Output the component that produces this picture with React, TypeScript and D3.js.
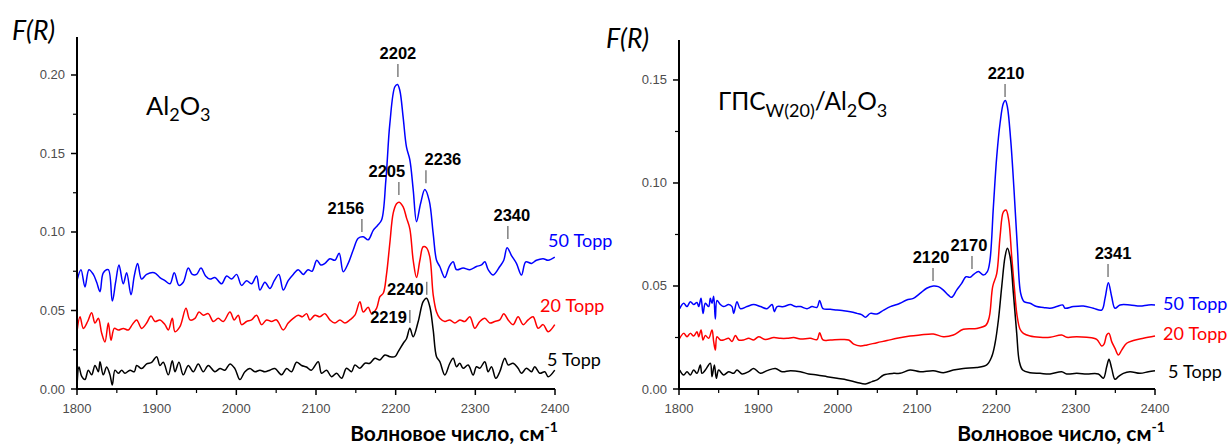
import React from "react";
import * as d3 from "d3";

type Pt = [number, number];

// ---------- data (wavenumber, F(R)) ----------
const xTicks = [1800, 1900, 2000, 2100, 2200, 2300, 2400];
const xMinorTicks = [1850, 1950, 2050, 2150, 2250, 2350];
const leftYTicks = [0, 0.05, 0.1, 0.15, 0.2];
const leftYMinor = [0.025, 0.075, 0.125, 0.175];
const rightYTicks = [0, 0.05, 0.1, 0.15];
const rightYMinor = [0.025, 0.075, 0.125];
const pressureLabels = ["50 Торр", "20 Торр", "5 Торр"];

const leftBlue: Pt[] = [
  [1800, 0.069], [1805, 0.076], [1810, 0.065], [1815, 0.076], [1820.5, 0.073], [1824.7, 0.068],
  [1828.9, 0.062], [1833, 0.074], [1839.3, 0.076], [1844.3, 0.056], [1848.5, 0.068], [1852.7, 0.079],
  [1858.1, 0.067], [1862.3, 0.074], [1867.8, 0.06], [1871.9, 0.072], [1876.1, 0.08], [1881.1, 0.07],
  [1887.4, 0.073], [1897, 0.074], [1904.1, 0.071], [1910.4, 0.069], [1916.7, 0.067], [1922.1, 0.074],
  [1928, 0.066], [1933.4, 0.068], [1939.7, 0.077], [1944.7, 0.073], [1950.1, 0.073], [1955.6, 0.077],
  [1961.4, 0.072], [1966.9, 0.07], [1973.1, 0.071], [1981.5, 0.067], [1987.8, 0.072], [1994.1, 0.07],
  [2000.3, 0.073], [2006.6, 0.066], [2012.9, 0.069], [2019.1, 0.067], [2025.4, 0.072], [2029.6, 0.063],
  [2035.9, 0.068], [2042.1, 0.064], [2047.6, 0.069], [2053.4, 0.073], [2058.9, 0.063], [2065.1, 0.069],
  [2071.4, 0.073], [2077.7, 0.076], [2084, 0.073], [2090, 0.076], [2095, 0.075], [2101, 0.082],
  [2106, 0.079], [2111.2, 0.08], [2117.4, 0.083], [2123.7, 0.082], [2129.1, 0.0865], [2134.2, 0.0747],
  [2140.4, 0.08], [2146.7, 0.0885], [2153, 0.096], [2159.3, 0.097], [2165.5, 0.095], [2171.8, 0.101],
  [2177, 0.104], [2182.3, 0.1076], [2187.7, 0.133], [2192.7, 0.169], [2199, 0.1925], [2202.3, 0.194],
  [2205.3, 0.19], [2209.4, 0.173], [2213.6, 0.154], [2217.8, 0.146], [2222, 0.127], [2226.2, 0.1066],
  [2231.2, 0.118], [2236.6, 0.127], [2242.1, 0.12], [2247.1, 0.099], [2251.3, 0.082], [2255.4, 0.078],
  [2261.7, 0.071], [2267.2, 0.078], [2272.2, 0.081], [2276.4, 0.076], [2284.7, 0.077], [2293.1, 0.076],
  [2301.4, 0.078], [2307.7, 0.079], [2311.9, 0.081], [2316.1, 0.076], [2322.4, 0.0726], [2330.7, 0.078],
  [2335.7, 0.082], [2339.9, 0.09], [2345.4, 0.085], [2351.6, 0.08], [2357.9, 0.0726], [2363.3, 0.081],
  [2370.5, 0.08], [2376.7, 0.082], [2385.1, 0.083], [2391.4, 0.082], [2399.7, 0.084],
];

const leftRed: Pt[] = [
  [1800, 0.0365], [1803.8, 0.046], [1808, 0.0386], [1813.4, 0.043], [1818.4, 0.0486], [1822.6, 0.042],
  [1826.8, 0.045], [1831, 0.0355], [1835.1, 0.03], [1839.3, 0.042], [1842.7, 0.031], [1846.8, 0.0386],
  [1851.9, 0.0376], [1858.1, 0.0386], [1864.4, 0.0376], [1869.4, 0.041], [1874.9, 0.044], [1881.1, 0.0386],
  [1887.4, 0.042], [1892.9, 0.0465], [1897.9, 0.043], [1904.1, 0.044], [1910.4, 0.041], [1914.6, 0.0376],
  [1919.6, 0.045], [1923, 0.0365], [1929.2, 0.0397], [1936.8, 0.0514], [1941.8, 0.044], [1948.1, 0.045],
  [1953.1, 0.049], [1958.5, 0.047], [1964.8, 0.048], [1971, 0.043], [1977.3, 0.045], [1983.6, 0.043],
  [1992, 0.049], [1997.4, 0.044], [2002.4, 0.047], [2006.6, 0.041], [2012.9, 0.043], [2019.1, 0.044],
  [2025.4, 0.047], [2031.7, 0.041], [2038, 0.044], [2044.2, 0.043], [2050.5, 0.044], [2058.9, 0.0376],
  [2065.1, 0.042], [2071.4, 0.045], [2077.7, 0.047], [2083, 0.046], [2088.2, 0.048], [2092.3, 0.044],
  [2098.6, 0.047], [2104.9, 0.046], [2111.2, 0.048], [2117.4, 0.044], [2123.7, 0.042], [2130, 0.044],
  [2136.3, 0.042], [2142.5, 0.044], [2148.8, 0.047], [2155.1, 0.0556], [2159.3, 0.049], [2165.5, 0.052],
  [2169.7, 0.048], [2176, 0.0514], [2180.2, 0.0588], [2184.4, 0.061], [2188.5, 0.073], [2192.7, 0.093],
  [2196.9, 0.112], [2201.1, 0.118], [2204.4, 0.119], [2209.4, 0.116], [2213.6, 0.109], [2217.8, 0.102],
  [2222, 0.082], [2226.2, 0.071], [2230.4, 0.082], [2234.5, 0.0906], [2238.7, 0.09], [2242.9, 0.084],
  [2247.1, 0.06], [2251.3, 0.049], [2255.4, 0.045], [2261.7, 0.043], [2268, 0.044], [2274.3, 0.042],
  [2280.5, 0.044], [2286.8, 0.043], [2293.1, 0.046], [2299.4, 0.0387], [2305.6, 0.043], [2311.9, 0.045],
  [2318.2, 0.042], [2324.4, 0.043], [2330.7, 0.044], [2335.7, 0.048], [2341.2, 0.044], [2347.4, 0.041],
  [2353.7, 0.046], [2360, 0.041], [2366.3, 0.044], [2372.5, 0.046], [2378.8, 0.0387], [2385.1, 0.041],
  [2391.4, 0.0365], [2399.7, 0.041],
];

const leftBlack: Pt[] = [
  [1800, 0.0015], [1802.5, 0.014], [1805.9, 0.008], [1810, 0.006], [1814.2, 0.012], [1818.4, 0.009],
  [1822.6, 0.015], [1826.8, 0.011], [1828.9, 0.0174], [1833, 0.009], [1837.2, 0.014], [1841.4, 0.009],
  [1844.3, 0.0025], [1847.7, 0.012], [1851.9, 0.01], [1856.1, 0.012], [1860.2, 0.01], [1866.5, 0.012],
  [1871.9, 0.011], [1874.9, 0.015], [1881.1, 0.013], [1887.4, 0.016], [1893.7, 0.017], [1900, 0.0206],
  [1904.1, 0.015], [1908.3, 0.017], [1914.6, 0.009], [1919.6, 0.018], [1923, 0.011], [1928, 0.017],
  [1933.4, 0.009], [1939.7, 0.015], [1946, 0.011], [1952.2, 0.016], [1958.5, 0.011], [1964.8, 0.015],
  [1973.1, 0.011], [1979.4, 0.013], [1985.7, 0.012], [1992, 0.016], [1998.2, 0.013], [2004.5, 0.006],
  [2010.8, 0.011], [2017, 0.013], [2023.3, 0.011], [2029.6, 0.012], [2035.9, 0.011], [2042.1, 0.012],
  [2048.4, 0.013], [2056.8, 0.009], [2063.1, 0.013], [2069.3, 0.011], [2075.6, 0.017], [2081.9, 0.015],
  [2088, 0.014], [2094, 0.012], [2102.8, 0.0174], [2107, 0.01], [2113.3, 0.012], [2119.5, 0.0078],
  [2125.8, 0.01], [2132.1, 0.0068], [2138.3, 0.0132], [2144.6, 0.011], [2148.8, 0.0153], [2155.1, 0.0132],
  [2161.4, 0.0164], [2167.6, 0.0164], [2173.9, 0.0196], [2180.2, 0.0185], [2186.4, 0.0217], [2192.7, 0.0206],
  [2199, 0.0206], [2203.2, 0.0238], [2209.4, 0.029], [2213.6, 0.032], [2217.8, 0.0387], [2222, 0.0333],
  [2228.3, 0.043], [2234.5, 0.0556], [2238.7, 0.0578], [2242.9, 0.0524], [2247.1, 0.0376], [2251.3, 0.0206],
  [2255.4, 0.0174], [2261.7, 0.0089], [2268, 0.0164], [2272.2, 0.0196], [2276.4, 0.0142], [2280.5, 0.0164],
  [2284.7, 0.0132], [2291, 0.0153], [2297.3, 0.0089], [2301.4, 0.0142], [2305.6, 0.0132], [2311.9, 0.0174],
  [2316.1, 0.011], [2320.3, 0.0142], [2325.7, 0.0068], [2330.7, 0.011], [2337, 0.0196], [2341.2, 0.0153],
  [2347.4, 0.0164], [2353.7, 0.0132], [2357.9, 0.01], [2364.2, 0.0132], [2370.5, 0.011], [2374.6, 0.0142],
  [2380.9, 0.01], [2387.2, 0.011], [2391.4, 0.0078], [2399.7, 0.012],
];

const rightBlue: Pt[] = [
  [1800.9, 0.039], [1805.9, 0.0416], [1810.1, 0.04], [1814.3, 0.0424], [1818.5, 0.041], [1822.7, 0.042],
  [1824.8, 0.04], [1827.8, 0.044], [1830.3, 0.0367], [1833.2, 0.0416], [1837.4, 0.04], [1839.5, 0.044],
  [1841.6, 0.0416], [1843.7, 0.045], [1845.8, 0.034], [1847.9, 0.043], [1852.1, 0.041], [1856.3, 0.04],
  [1862.6, 0.041], [1866.8, 0.04], [1868.9, 0.0367], [1873.1, 0.0424], [1877.3, 0.039], [1885.7, 0.04],
  [1894.1, 0.041], [1902.6, 0.04], [1911, 0.039], [1917.3, 0.041], [1920.2, 0.0375], [1923.6, 0.04],
  [1932, 0.04], [1940.4, 0.041], [1946.7, 0.04], [1953, 0.04], [1961.4, 0.039], [1967.7, 0.04],
  [1974, 0.0396], [1977.3, 0.043], [1981.5, 0.039], [1990.8, 0.0387], [1999.2, 0.0383], [2007.6, 0.038],
  [2016, 0.0375], [2024.4, 0.0367], [2030.7, 0.036], [2034.9, 0.0348], [2041.2, 0.0367], [2049.6, 0.0364],
  [2058, 0.0383], [2066.4, 0.04], [2074.8, 0.041], [2078.6, 0.0416], [2087, 0.0432], [2095.4, 0.044],
  [2103.8, 0.0464], [2112.2, 0.0489], [2120.6, 0.05], [2126.9, 0.0497], [2133.2, 0.048], [2139.5, 0.0456],
  [2143.7, 0.0445], [2150, 0.048], [2156.3, 0.0513], [2161.8, 0.0545], [2166.8, 0.0542], [2171.9, 0.0558],
  [2177.4, 0.057], [2183.6, 0.0553], [2188.7, 0.057], [2192, 0.0626], [2196.3, 0.0885], [2200.5, 0.1128],
  [2204.7, 0.129], [2208.9, 0.1387], [2211.4, 0.14], [2213.9, 0.137], [2218.1, 0.1209], [2222.3, 0.0966],
  [2226.5, 0.069], [2230.7, 0.0464], [2234.9, 0.0424], [2242.5, 0.0416], [2250.9, 0.04], [2259.3, 0.0396],
  [2267.7, 0.0392], [2276.1, 0.04], [2283.7, 0.0408], [2286.6, 0.0392], [2297.1, 0.04], [2309.7, 0.0403],
  [2322.3, 0.0392], [2332.8, 0.0383], [2337, 0.044], [2341.2, 0.0516], [2345.4, 0.0448], [2349.6, 0.0392],
  [2355.9, 0.0408], [2368.5, 0.0408], [2381.1, 0.0403], [2391.7, 0.0408], [2400, 0.0408],
];

const rightRed: Pt[] = [
  [1800.9, 0.0246], [1805.9, 0.027], [1810.1, 0.0254], [1814.3, 0.027], [1818.5, 0.0257], [1822.7, 0.0278],
  [1824.8, 0.0254], [1827.8, 0.0286], [1830.3, 0.0238], [1833.2, 0.026], [1837.4, 0.0246], [1841.6, 0.0286],
  [1843.7, 0.023], [1845.8, 0.0189], [1847.9, 0.0254], [1852.1, 0.0238], [1856.3, 0.0238], [1862.6, 0.0246],
  [1866.8, 0.023], [1871, 0.026], [1875.2, 0.0238], [1881.5, 0.0238], [1887.8, 0.0246], [1894.1, 0.0238],
  [1900.4, 0.0254], [1908.9, 0.024], [1919.4, 0.025], [1927.8, 0.0246], [1936.2, 0.0246], [1944.6, 0.025],
  [1953, 0.0243], [1965.6, 0.0246], [1974, 0.024], [1977.3, 0.0273], [1981.5, 0.0238], [1990.8, 0.0238],
  [2003.4, 0.024], [2013.9, 0.0238], [2020.2, 0.0218], [2028.6, 0.0209], [2037, 0.0214], [2049.6, 0.0225],
  [2062.2, 0.0235], [2074.8, 0.0246], [2091.2, 0.0257], [2103.8, 0.0262], [2120.6, 0.0267], [2133.2, 0.0254],
  [2145.8, 0.0262], [2158.4, 0.029], [2175.2, 0.0294], [2187, 0.031], [2191.2, 0.0351], [2195.4, 0.0497],
  [2200.5, 0.056], [2204.7, 0.074], [2208.9, 0.086], [2212.2, 0.0869], [2215.6, 0.082], [2219.4, 0.0642],
  [2222.6, 0.0497], [2226, 0.036], [2229.9, 0.029], [2234.1, 0.027], [2242.5, 0.0257], [2255, 0.0251],
  [2267.7, 0.0251], [2282.4, 0.0262], [2288.7, 0.0251], [2301.3, 0.0254], [2313.9, 0.0251], [2326.5, 0.0241],
  [2332.8, 0.0209], [2335.8, 0.0218], [2339.1, 0.0262], [2342, 0.027], [2345.4, 0.023], [2349.6, 0.0197],
  [2353.8, 0.0165], [2358, 0.0189], [2364.3, 0.0222], [2372.7, 0.0235], [2385.3, 0.0246], [2400, 0.0257],
];

const rightBlack: Pt[] = [
  [1800.9, 0.0092], [1805.9, 0.0068], [1810.1, 0.0084], [1814.3, 0.0068], [1818.5, 0.0092], [1822.7, 0.0076],
  [1826.9, 0.0117], [1829, 0.0076], [1833.2, 0.0092], [1839.5, 0.0125], [1841.6, 0.006], [1844.6, 0.0117],
  [1847.1, 0.0052], [1850, 0.0092], [1856.3, 0.0068], [1862.6, 0.0084], [1868.9, 0.0076], [1873.1, 0.0092],
  [1879.4, 0.0073], [1887.8, 0.0084], [1894.1, 0.01], [1902.6, 0.0076], [1911, 0.0089], [1921.5, 0.01],
  [1929.9, 0.0084], [1940.4, 0.0089], [1953, 0.0084], [1963.5, 0.0073], [1974, 0.0068], [1986.6, 0.006],
  [1999.2, 0.0052], [2011.8, 0.0044], [2024.4, 0.0032], [2034.9, 0.0024], [2043.3, 0.0036], [2049.6, 0.0044],
  [2058, 0.0068], [2070.6, 0.0076], [2078.6, 0.0076], [2091.2, 0.0092], [2103.8, 0.0084], [2120.6, 0.0089],
  [2133.2, 0.0079], [2145.8, 0.0092], [2158.4, 0.01], [2175.2, 0.0104], [2187.9, 0.0117], [2194.2, 0.0157],
  [2198.4, 0.0222], [2202.6, 0.0335], [2206.8, 0.0497], [2211, 0.0642], [2213.9, 0.0683], [2217.3, 0.0642],
  [2221.5, 0.0464], [2225.7, 0.027], [2229, 0.0133], [2233.2, 0.0092], [2242.5, 0.0079], [2255, 0.0076],
  [2267.7, 0.0073], [2282.4, 0.0084], [2288.7, 0.0073], [2301.3, 0.0076], [2313.9, 0.0073], [2328.6, 0.0073],
  [2334.9, 0.0052], [2339.1, 0.0108], [2342, 0.0144], [2345.4, 0.01], [2349.6, 0.0047], [2353.8, 0.006],
  [2360.1, 0.0076], [2368.5, 0.0084], [2381.1, 0.0076], [2391.7, 0.0084], [2400, 0.0089],
];

// peak marks: label, tick wavenumber, F(R) at tick bottom
const leftPeaks = [
  { label: "2202", w: 2202.8, v: 0.1987, dx: 0, mode: "top" },
  { label: "2205", w: 2204, v: 0.1236, dx: -12, mode: "top" },
  { label: "2236", w: 2238, v: 0.131, dx: 17, mode: "top" },
  { label: "2156", w: 2157.6, v: 0.1, dx: -16, mode: "top" },
  { label: "2340", w: 2340.8, v: 0.0955, dx: 4, mode: "top" },
  { label: "2240", w: 2239, v: 0.06, dx: 0, mode: "left" },
  { label: "2219", w: 2217.8, v: 0.042, dx: 0, mode: "left" },
];
const rightPeaks = [
  { label: "2210", w: 2211, v: 0.1417, dx: 1, mode: "top" },
  { label: "2170", w: 2169.3, v: 0.0583, dx: -3, mode: "top" },
  { label: "2120", w: 2120.2, v: 0.0524, dx: -2, mode: "top" },
  { label: "2341", w: 2340.8, v: 0.0544, dx: 5, mode: "top" },
];

const COLORS = ["#0000ff", "#ff0000", "#000000"];

type PanelProps = {
  x0: number; x1: number; yTop: number; yBottom: number; yMax: number;
  yTicks: number[]; yMinor: number[];
  series: Pt[][];
  peaks: { label: string; w: number; v: number; dx: number; mode: string }[];
  labelPos: [number, number][];
  titleX: number;
};

const Panel = (p: PanelProps) => {
  const x = d3.scaleLinear().domain([1800, 2400]).range([p.x0, p.x1]);
  const y = d3.scaleLinear().domain([0, p.yMax]).range([p.yBottom, p.yTop]);
  const line = d3
    .line<Pt>()
    .x((d) => x(d[0]))
    .y((d) => y(d[1]))
    .curve(d3.curveCatmullRom.alpha(0.5));
  const fmt = d3.format(".2f");
  return (
    <g>
      {p.series.map((s, i) => (
        <path key={i} d={line(s) || ""} fill="none" stroke={COLORS[i]} strokeWidth={1.5} />
      ))}
      {/* axes */}
      <line x1={p.x0} x2={p.x0} y1={p.yBottom + 1} y2={p.yTop} stroke="#000" strokeWidth={2} />
      <line x1={p.x0 - 1} x2={p.x1} y1={p.yBottom} y2={p.yBottom} stroke="#000" strokeWidth={2} />
      {xTicks.map((t) => (
        <g key={"xt" + t}>
          <line x1={x(t)} x2={x(t)} y1={p.yBottom} y2={p.yBottom + 6} stroke="#000" strokeWidth={1.5} />
          <text x={x(t)} y={p.yBottom + 24} textAnchor="middle" fontSize={13}
            fontFamily="Liberation Sans, Arial, sans-serif" fill="#4d4d4d">{t}</text>
        </g>
      ))}
      {xMinorTicks.map((t) => (
        <line key={"xm" + t} x1={x(t)} x2={x(t)} y1={p.yBottom} y2={p.yBottom + 4} stroke="#000" strokeWidth={1.2} />
      ))}
      {p.yTicks.map((t) => (
        <g key={"yt" + t}>
          <line x1={p.x0 - 6} x2={p.x0} y1={y(t)} y2={y(t)} stroke="#000" strokeWidth={1.5} />
          <text x={p.x0 - 12} y={y(t) + 4.5} textAnchor="end" fontSize={13}
            fontFamily="Liberation Sans, Arial, sans-serif" fill="#4d4d4d">{fmt(t)}</text>
        </g>
      ))}
      {p.yMinor.map((t) => (
        <line key={"ym" + t} x1={p.x0 - 4} x2={p.x0} y1={y(t)} y2={y(t)} stroke="#000" strokeWidth={1.2} />
      ))}
      {/* peak marks */}
      {p.peaks.map((pk) => {
        const tx = x(pk.w);
        const yb = y(pk.v);
        const yt = yb - 13;
        return (
          <g key={pk.label}>
            <line x1={tx} x2={tx} y1={yb} y2={yt} stroke="#7f7f7f" strokeWidth={1.5} />
            {pk.mode === "top" ? (
              <text x={tx + pk.dx} y={yt - 5} textAnchor="middle" fontSize={16.5} fontWeight="bold"
                fontFamily="Liberation Sans, Arial, sans-serif" fill="#000">{pk.label}</text>
            ) : (
              <text x={tx - 3} y={yb} textAnchor="end" fontSize={16.5} fontWeight="bold"
                fontFamily="Liberation Sans, Arial, sans-serif" fill="#000">{pk.label}</text>
            )}
          </g>
        );
      })}
      {pressureLabels.map((l, i) => (
        <text key={l} x={p.labelPos[i][0]} y={p.labelPos[i][1]} fontSize={18}
          fontFamily="Lato, Open Sans, sans-serif" fill={COLORS[i]}>{l}</text>
      ))}
      <text x={p.titleX} y={441} textAnchor="middle" fontSize={21} fontWeight="bold"
        fontFamily="Lato, Open Sans, sans-serif" fill="#000">
        Волновое число, см<tspan fontSize={14} dy={-9}>-1</tspan>
      </text>
    </g>
  );
};

export default function App() {
  return (
    <div style={{ position: "absolute", left: 0, top: 0 }}>
      <svg width={1228} height={448} viewBox="0 0 1228 448" style={{ display: "block", background: "#fff" }}>
        <rect width={1228} height={448} fill="#fff" />
        <Panel x0={77} x1={555} yTop={37} yBottom={389} yMax={0.2242}
          yTicks={leftYTicks} yMinor={leftYMinor}
          series={[leftBlue, leftRed, leftBlack]} peaks={leftPeaks}
          labelPos={[[548, 247], [540, 312], [547, 366]]} titleX={454} />
        <Panel x0={679} x1={1155} yTop={40} yBottom={389} yMax={0.1694}
          yTicks={rightYTicks} yMinor={rightYMinor}
          series={[rightBlue, rightRed, rightBlack]} peaks={rightPeaks}
          labelPos={[[1163, 310], [1163, 340], [1168, 378]]} titleX={1061} />
        <text x={12} y={40} fontSize={26.5} fontStyle="italic" fontFamily="Lato, Open Sans, sans-serif">F(R)</text>
        <text x={606} y={48} fontSize={26.5} fontStyle="italic" fontFamily="Lato, Open Sans, sans-serif">F(R)</text>
        <text x={146} y={115} fontSize={25.5} fontFamily="Lato, Open Sans, sans-serif">
          Al<tspan fontSize={18} dy={6}>2</tspan><tspan dy={-6}>O</tspan><tspan fontSize={18} dy={6}>3</tspan>
        </text>
        <text x={718} y={110} fontSize={24.5} fontFamily="Lato, Open Sans, sans-serif">
          ГПС<tspan fontSize={18} dy={7}>W(20)</tspan><tspan dy={-7}>/Al</tspan>
          <tspan fontSize={18} dy={7}>2</tspan><tspan dy={-7}>O</tspan><tspan fontSize={18} dy={7}>3</tspan>
        </text>
      </svg>
    </div>
  );
}
